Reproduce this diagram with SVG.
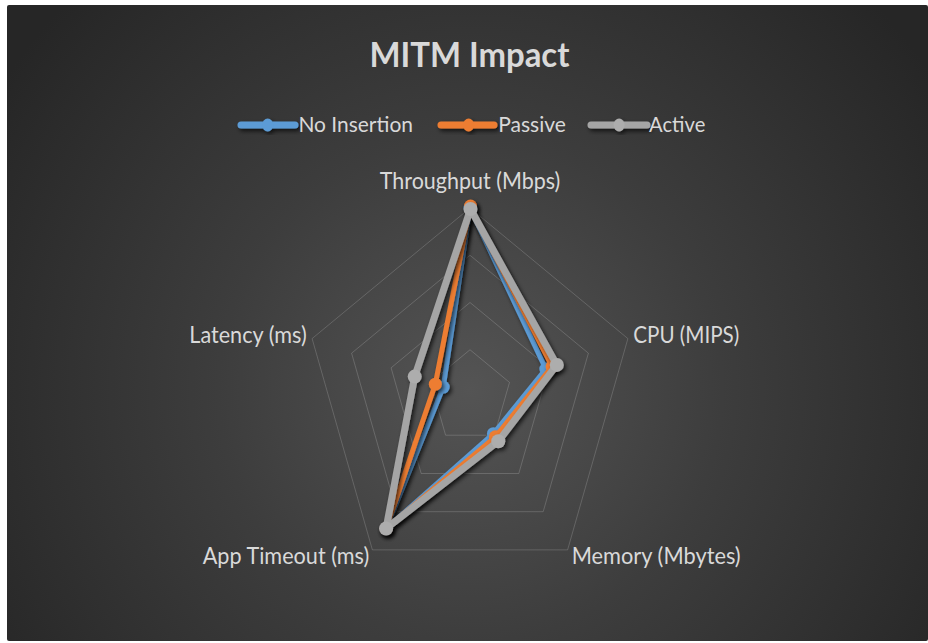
<svg xmlns="http://www.w3.org/2000/svg" width="928" height="643" viewBox="0 0 928 643">
  <defs>
    <radialGradient id="bg" gradientUnits="userSpaceOnUse" cx="470" cy="390" r="560">
      <stop offset="0" stop-color="#545454"/>
      <stop offset="0.45" stop-color="#3d3d3d"/>
      <stop offset="1" stop-color="#262626"/>
    </radialGradient>
    <filter id="shadow" x="-20%" y="-20%" width="140%" height="140%">
      <feDropShadow dx="2" dy="2.5" stdDeviation="2" flood-color="#000" flood-opacity="0.7"/>
    </filter>
    <style>
      .grid { fill: none; stroke: #ffffff; stroke-opacity: 0.17; stroke-width: 1; }
      .line { fill: none; stroke-linejoin: round; stroke-linecap: round; }
      .blue { stroke: #5B9BD5; stroke-width: 5; }
      .orange { stroke: #ED7D31; stroke-width: 5; }
      .gray { stroke: #A5A5A5; stroke-width: 7; }
      .mk-blue { fill: #5B9BD5; }
      .mk-orange { fill: #ED7D31; }
      .mk-gray { fill: #ADADAD; }
      .title { font-family: Lato, "Liberation Sans", sans-serif; font-weight: bold; font-size: 35px; fill: #D9D9D9; }
      .legend { font-family: Lato, "Liberation Sans", sans-serif; font-size: 21px; fill: #D9D9D9; }
      .axis { font-family: Lato, "Liberation Sans", sans-serif; font-size: 23.5px; fill: #D9D9D9; }
    </style>
  </defs>

  <!-- chart area -->
  <rect x="0" y="0" width="928" height="643" fill="#ffffff"/>
  <rect id="chart-area" x="7" y="5" width="921" height="636" rx="2" fill="url(#bg)"/>

  <!-- title -->
  <g id="title">
    <text class="title" x="369.4" y="66.7" textLength="200" lengthAdjust="spacingAndGlyphs">MITM Impact</text>
  </g>

  <!-- legend -->
  <g id="legend" filter="url(#shadow)">
    <g id="legend-no-insertion">
      <line class="line blue" x1="241" y1="125" x2="295" y2="125" style="stroke-width:7"/>
      <ellipse class="mk-blue" cx="267.7" cy="125" rx="5.5" ry="6.5"/>
    </g>
    <g id="legend-passive">
      <line class="line orange" x1="441" y1="125" x2="494" y2="125" style="stroke-width:7"/>
      <ellipse class="mk-orange" cx="468.6" cy="125" rx="5.5" ry="6.5"/>
    </g>
    <g id="legend-active">
      <line class="line gray" x1="591" y1="125" x2="647" y2="125"/>
      <ellipse class="mk-gray" cx="619.1" cy="125" rx="5.5" ry="6.5"/>
    </g>
  </g>
  <g id="legend-labels">
    <text class="legend" x="298.4" y="131.7" textLength="114.6" lengthAdjust="spacingAndGlyphs">No Insertion</text>
    <text class="legend" x="498.2" y="131.7" textLength="67.7" lengthAdjust="spacingAndGlyphs">Passive</text>
    <text class="legend" x="649.1" y="131.7" textLength="56.2" lengthAdjust="spacingAndGlyphs">Active</text>
  </g>

  <!-- radar grid rings at 25/50/75/100 % -->
  <g id="grid">
    <polygon class="grid" points="470,208 627.9,338.6 567.6,549.9 372.4,549.9 312.1,338.6"/>
    <polygon class="grid" points="470,255.25 588.4,353.2 543.2,511.7 396.8,511.7 351.6,353.2"/>
    <polygon class="grid" points="470,302.5 549,367.8 518.8,473.5 421.2,473.5 391.1,367.8"/>
    <polygon class="grid" points="470,349.75 509.5,382.4 494.4,435.2 445.6,435.2 430.5,382.4"/>
  </g>

  <!-- axis labels -->
  <g id="axis-labels">
    <text id="label-throughput" class="axis" x="379.8" y="189" textLength="180.5" lengthAdjust="spacingAndGlyphs">Throughput (Mbps)</text>
    <text id="label-cpu" class="axis" x="633.3" y="343.3" textLength="106" lengthAdjust="spacingAndGlyphs">CPU (MIPS)</text>
    <text id="label-memory" class="axis" x="571.7" y="563.5" textLength="169" lengthAdjust="spacingAndGlyphs">Memory (Mbytes)</text>
    <text id="label-app-timeout" class="axis" x="202.7" y="564" textLength="166.6" lengthAdjust="spacingAndGlyphs">App Timeout (ms)</text>
    <text id="label-latency" class="axis" x="189.3" y="343.3" textLength="117.4" lengthAdjust="spacingAndGlyphs">Latency (ms)</text>
  </g>

  <!-- data series -->
  <g id="series">
    <g id="series-no-insertion" filter="url(#shadow)">
      <polygon class="line blue" points="470,208 545.8,369 493.4,433.7 386.1,528.5 443.2,387.1"/>
      <circle class="mk-blue" cx="470" cy="208" r="6.5"/>
      <circle class="mk-blue" cx="545.8" cy="369" r="6.5"/>
      <circle class="mk-blue" cx="493.4" cy="433.7" r="6.5"/>
      <circle class="mk-blue" cx="386.1" cy="528.5" r="6.5"/>
      <circle class="mk-blue" cx="443.2" cy="387.1" r="6.5"/>
    </g>
    <g id="series-passive" filter="url(#shadow)">
      <polygon class="line orange" points="470,207 552.1,366.6 495.4,436.8 386.1,528.5 435.3,384.2"/>
      <circle class="mk-orange" cx="470.5" cy="206" r="6.5"/>
      <circle class="mk-orange" cx="552.1" cy="366.6" r="6.5"/>
      <circle class="mk-orange" cx="495.4" cy="436.8" r="6.5"/>
      <circle class="mk-orange" cx="386.1" cy="528.5" r="6.5"/>
      <circle class="mk-orange" cx="435.3" cy="384.2" r="6.5"/>
    </g>
    <g id="series-active" filter="url(#shadow)">
      <polygon class="line gray" points="470.5,209 556.8,364.9 498.3,441.3 386.1,528.5 414.7,376.6"/>
      <circle class="mk-gray" cx="470.5" cy="209" r="7"/>
      <circle class="mk-gray" cx="556.8" cy="364.9" r="7"/>
      <circle class="mk-gray" cx="498.3" cy="441.3" r="7"/>
      <circle class="mk-gray" cx="386.1" cy="528.5" r="7"/>
      <circle class="mk-gray" cx="414.7" cy="376.6" r="7"/>
    </g>
  </g>
</svg>
